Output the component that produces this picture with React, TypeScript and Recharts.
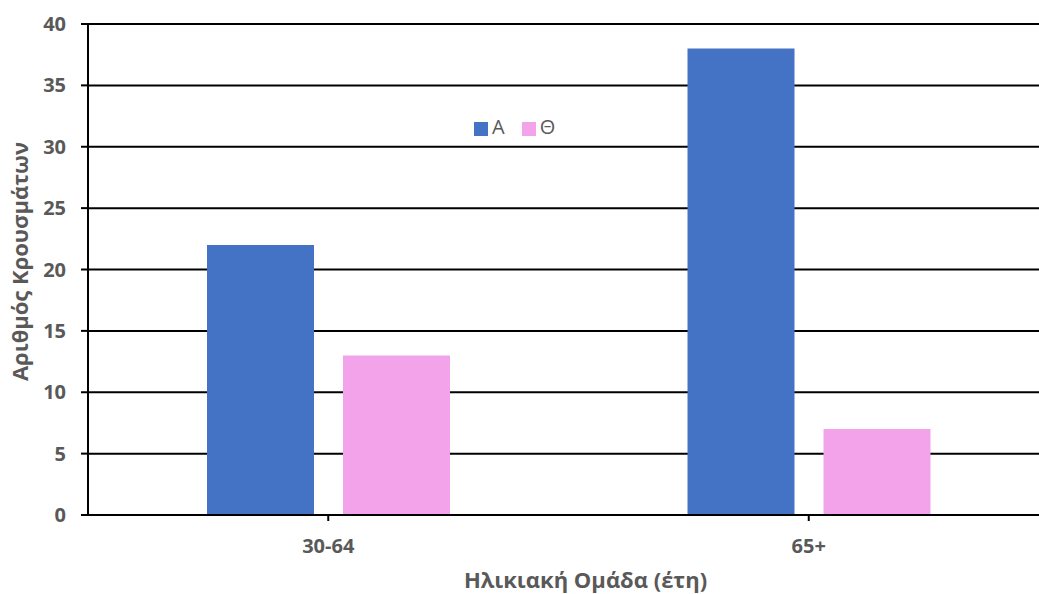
import React from 'react';
import { BarChart, Bar, XAxis, YAxis, CartesianGrid, Legend, Label } from 'recharts';

// age groups and case counts per series
const ageGroups = ['30-64', '65+'];
const seriesA = [22, 38];
const seriesTheta = [13, 7];
const yTicks = [0, 5, 10, 15, 20, 25, 30, 35, 40];

const data = ageGroups.map((group, i) => ({
  group,
  A: seriesA[i],
  Θ: seriesTheta[i],
}));

const FONT = '"Open Sans", "Noto Sans", sans-serif';
const TEXT = '#595959';

export default function App() {
  return (
    <div style={{ position: 'absolute', left: 0, top: 0, width: 1039, height: 594, overflow: 'hidden', background: '#fff' }}>
      <BarChart
        width={1060}
        height={594}
        data={data}
        margin={{ top: 24, right: 11, left: 0, bottom: 0 }}
        barSize={107}
        barGap={29}
      >
        <CartesianGrid horizontal vertical={false} stroke="#000" strokeWidth={2} />
        <XAxis
          dataKey="group"
          height={79}
          axisLine={{ stroke: '#000', strokeWidth: 2 }}
          tickLine={{ stroke: '#000', strokeWidth: 2 }}
          tickSize={6}
          tickMargin={18}
          tick={{ fill: TEXT, fontSize: 20, fontWeight: 700, fontFamily: FONT }}
        >
          <Label
            value="Ηλικιακή Ομάδα (έτη)"
            position="insideBottom"
            offset={6}
            dx={17}
            style={{ fill: TEXT, fontSize: 22, fontWeight: 700, fontFamily: FONT }}
          />
        </XAxis>
        <YAxis
          width={88}
          domain={[0, 40]}
          ticks={yTicks}
          interval={0}
          axisLine={{ stroke: '#000', strokeWidth: 2 }}
          tickLine={{ stroke: '#000', strokeWidth: 2 }}
          tickSize={7}
          tickMargin={15}
          tick={{ fill: TEXT, fontSize: 20, fontWeight: 700, fontFamily: FONT }}
        >
          <Label
            value="Αριθμός Κρουσμάτων"
            position="center"
            angle={-90}
            dx={-24}
            dy={-8}
            style={{ fill: TEXT, fontSize: 22, fontWeight: 700, fontFamily: FONT, textAnchor: 'middle' }}
          />
        </YAxis>
        <Legend
          iconType="square"
          iconSize={14}
          align="left"
          wrapperStyle={{ top: 113, left: 474, width: 160, height: 0, overflow: 'visible', fontFamily: FONT, fontSize: 20 }}
          formatter={(value) => <span style={{ color: TEXT, paddingRight: 7 }}>{value}</span>}
        />
        <Bar dataKey="A" fill="#4472C4" isAnimationActive={false} />
        <Bar dataKey="Θ" fill="#F2A3EA" isAnimationActive={false} />
      </BarChart>
    </div>
  );
}
